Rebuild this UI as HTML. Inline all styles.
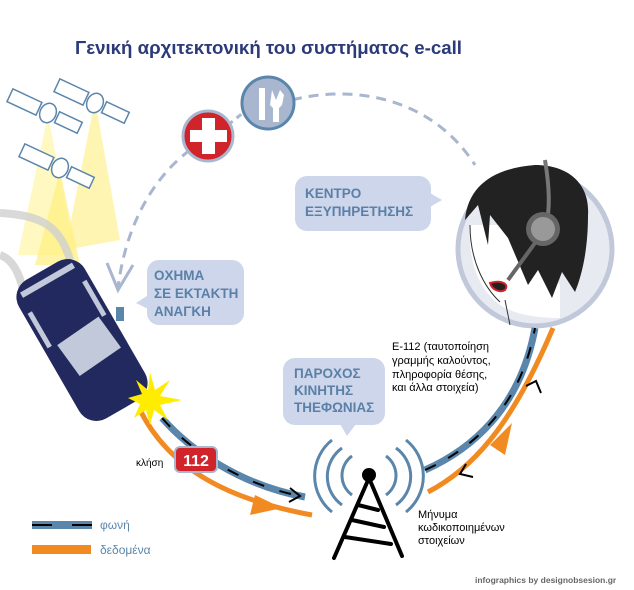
<!DOCTYPE html>
<html><head><meta charset="utf-8"><style>
html,body{margin:0;padding:0;background:#fff;}
svg{display:block;}
text{font-family:"Liberation Sans","DejaVu Sans",sans-serif;}
</style></head><body>
<svg width="634" height="590" viewBox="0 0 634 590" xmlns="http://www.w3.org/2000/svg">
<text x="75" y="54" font-size="18.5" font-weight="bold" fill="#2b3a78" textLength="387" lengthAdjust="spacingAndGlyphs">Γενική αρχιτεκτονική του συστήματος e-call</text>

<!-- beams -->
<polygon points="48,115 18,255 75,255" fill="#fff6b0" opacity="0.8"/>
<polygon points="95,100 65,250 120,240" fill="#fff3a0" opacity="0.8"/>
<polygon points="60,170 35,265 80,265" fill="#fff080" opacity="0.7"/>
<!-- roads -->
<path d="M0,213 C40,215 60,225 70,260" stroke="#d0d0d0" stroke-width="8" fill="none" opacity="0.8"/>
<path d="M0,255 C15,260 22,280 25,300" stroke="#d8d8d8" stroke-width="8" fill="none"/>

<!-- satellites -->
<g stroke="#5b86ab" stroke-width="1.5" fill="#fff">
 <g transform="translate(48,113) rotate(25)"><rect x="-42" y="-7" width="32" height="14"/><rect x="10" y="-6" width="25" height="12"/><ellipse cx="0" cy="0" rx="8" ry="10"/></g>
 <g transform="translate(95,103) rotate(25)"><rect x="-42" y="-7" width="32" height="14"/><rect x="10" y="-6" width="25" height="12"/><ellipse cx="0" cy="0" rx="8" ry="10"/></g>
 <g transform="translate(60,168) rotate(25)"><rect x="-42" y="-7" width="32" height="14"/><rect x="10" y="-6" width="25" height="12"/><ellipse cx="0" cy="0" rx="8" ry="10"/></g>
</g>

<!-- dashed arcs -->
<path d="M190,150 C150,180 125,230 118,288" stroke="#a9b6cf" stroke-width="3" fill="none" stroke-dasharray="10,7"/>
<path d="M107,263 L118,290 L133,265" stroke="#a9b6cf" stroke-width="3" fill="none"/>
<path d="M292,100 C350,85 430,95 475,165" stroke="#a9b6cf" stroke-width="3" fill="none" stroke-dasharray="10,7"/>
<line x1="228" y1="125" x2="244" y2="112" stroke="#a9b6cf" stroke-width="3" stroke-dasharray="6,5"/>

<!-- red cross -->
<circle cx="208" cy="136" r="25" fill="#d1232a" stroke="#a9b6cf" stroke-width="3"/>
<rect x="202" y="118" width="13" height="36" fill="#fff"/><rect x="190" y="130" width="37" height="12" fill="#fff"/>
<!-- tools -->
<circle cx="268" cy="103" r="26" fill="#a9b6cf" stroke="#5b86ab" stroke-width="3"/>
<rect x="259" y="88" width="6" height="32" fill="#fff"/>
<path d="M272,90 L276,100 L280,90 L284,95 L282,105 L279,108 L279,122 L273,122 L273,108 L270,105 Z" fill="#fff"/>

<!-- bubbles -->
<g fill="#cdd6ea">
 <rect x="295" y="176" width="136" height="55" rx="12"/><polygon points="428,192 442,200 428,208"/>
 <rect x="147" y="260" width="97" height="65" rx="12"/><polygon points="150,294 136,303 150,310"/>
 <rect x="283" y="358" width="102" height="67" rx="12"/><polygon points="340,424 347,436 356,424"/>
</g>
<g font-size="13.5" font-weight="bold" fill="#5b80a8">
 <text x="305" y="198">ΚΕΝΤΡΟ</text><text x="305" y="216">ΕΞΥΠΗΡΕΤΗΣΗΣ</text>
 <text x="154" y="280">ΟΧΗΜΑ</text><text x="154" y="298">ΣΕ ΕΚΤΑΚΤΗ</text><text x="154" y="316">ΑΝΑΓΚΗ</text>
 <text x="294" y="378">ΠΑΡΟΧΟΣ</text><text x="294" y="395">ΚΙΝΗΤΗΣ</text><text x="294" y="412">ΤΗΕΦΩΝΙΑΣ</text>
</g>

<!-- woman -->
<circle cx="535" cy="249" r="77" fill="#e8eaf2" stroke="#c0c8da" stroke-width="5"/>
<path d="M470,225 C468,265 480,290 500,305 C515,315 540,318 560,318 L560,285 L540,260 L500,225 Z" fill="#fff"/>
<path d="M465,220 C468,185 495,168 535,165 C570,165 590,185 588,215 C588,250 582,275 575,292 L562,272 L552,298 L538,270 L528,285 L508,238 L490,215 L488,245 L478,205 Z" fill="#222"/>
<path d="M470,225 C470,262 485,288 500,302 M505,300 L510,325" stroke="#333" stroke-width="1" fill="none"/>
<path d="M490,283 C500,280 510,283 505,290 C500,293 492,290 490,283 Z" fill="#222" stroke="#d1232a" stroke-width="2"/>
<path d="M545,160 C550,190 550,210 546,225" stroke="#777" stroke-width="4" fill="none"/>
<circle cx="543" cy="229" r="17" fill="#666"/><circle cx="543" cy="229" r="12" fill="#999"/>
<line x1="535" y1="243" x2="508" y2="280" stroke="#666" stroke-width="4"/>

<!-- car -->
<g transform="translate(82,340) rotate(-30)">
 <rect x="-38" y="-80" width="76" height="160" rx="20" fill="#22295e"/>
 <rect x="-30" y="-72" width="60" height="6" fill="#c2c9da"/>
 <polygon points="-24,-8 26,-12 30,26 -20,30" fill="#c2c9da"/>
 <rect x="-34" y="-50" width="5" height="40" fill="#c2c9da"/>
 <rect x="29" y="-50" width="5" height="40" fill="#c2c9da"/>
</g>
<rect x="116" y="307" width="8" height="14" fill="#5b86ab"/>

<!-- lines car->tower -->
<path d="M140,410 C170,470 230,500 312,515" stroke="#f28a22" stroke-width="5" fill="none"/>
<polygon points="255,495 282,508 250,515" fill="#f28a22"/>
<path d="M162,418 C190,450 240,485 305,497" stroke="#5b86ab" stroke-width="7" fill="none"/>
<path d="M162,418 C190,450 240,485 305,497" stroke="#000" stroke-width="2" fill="none" stroke-dasharray="12,16"/>
<path d="M290,488 L300,496 L289,502" stroke="#000" stroke-width="2" fill="none"/>
<!-- starburst -->
<polygon points="150,372 155,390 170,380 160,396 182,400 160,405 168,420 154,410 150,425 146,410 134,418 140,404 128,398 142,394 136,380 148,390" fill="#ffec00"/>

<!-- 112 -->
<rect x="175" y="447" width="42" height="25" rx="5" fill="#d1232a" stroke="#a9b6cf" stroke-width="2"/>
<text x="196" y="466" font-size="16" font-weight="bold" fill="#fff" text-anchor="middle">112</text>
<text x="136" y="466" font-size="10" fill="#000">κλήση</text>

<!-- tower->woman -->
<path d="M428,492 C470,470 510,430 553,328" stroke="#f28a22" stroke-width="5" fill="none"/>
<polygon points="490,445 512,423 505,455" fill="#f28a22"/>
<path d="M425,470 C470,450 520,410 535,328" stroke="#5b86ab" stroke-width="7" fill="none"/>
<path d="M425,470 C470,450 520,410 535,328" stroke="#000" stroke-width="2" fill="none" stroke-dasharray="12,14"/>
<path d="M526,386 L536,381 L541,393" stroke="#000" stroke-width="2" fill="none"/>
<path d="M466,464 L460,474 L473,477" stroke="#000" stroke-width="2" fill="none"/>

<!-- tower -->
<g stroke="#5b86ab" stroke-width="3" fill="none">
 <path d="M352,456 A24,24 0 0 0 352,495"/><path d="M342,448 A35,35 0 0 0 342,505"/><path d="M332,440 A46,46 0 0 0 332,512"/>
 <path d="M386,456 A24,24 0 0 1 386,495"/><path d="M396,448 A35,35 0 0 1 396,505"/><path d="M406,440 A46,46 0 0 1 406,512"/>
</g>
<circle cx="369" cy="475" r="7" fill="#000"/>
<g stroke="#000" stroke-width="4" fill="none" stroke-linecap="round">
 <path d="M369,478 L334,558"/><path d="M369,478 L402,556"/>
 <line x1="358" y1="505" x2="378" y2="510"/><line x1="352" y1="520" x2="384" y2="527"/><line x1="345" y1="537" x2="391" y2="544"/>
</g>

<g font-size="11" fill="#000">
 <text x="392" y="350">E-112 (ταυτοποίηση</text><text x="392" y="364">γραμμής καλούντος,</text><text x="392" y="378">πληροφορία θέσης,</text><text x="392" y="391">και άλλα στοιχεία)</text>
 <text x="418" y="518">Μήνυμα</text><text x="418" y="531">κωδικοποιημένων</text><text x="418" y="544">στοιχείων</text>
</g>

<!-- legend -->
<rect x="32" y="521" width="60" height="8" fill="#5b86ab"/>
<line x1="32" y1="525" x2="52" y2="525" stroke="#000" stroke-width="2"/><line x1="72" y1="525" x2="92" y2="525" stroke="#000" stroke-width="2"/>
<rect x="32" y="545" width="59" height="9" fill="#f28a22"/>
<text x="100" y="529" font-size="12" fill="#5b86ab">φωνή</text>
<text x="100" y="554" font-size="12" fill="#5b86ab">δεδομένα</text>

<text x="475" y="583" font-size="8.5" font-weight="bold" fill="#666">infographics by designobsesion.gr</text>
</svg>
</body></html>
